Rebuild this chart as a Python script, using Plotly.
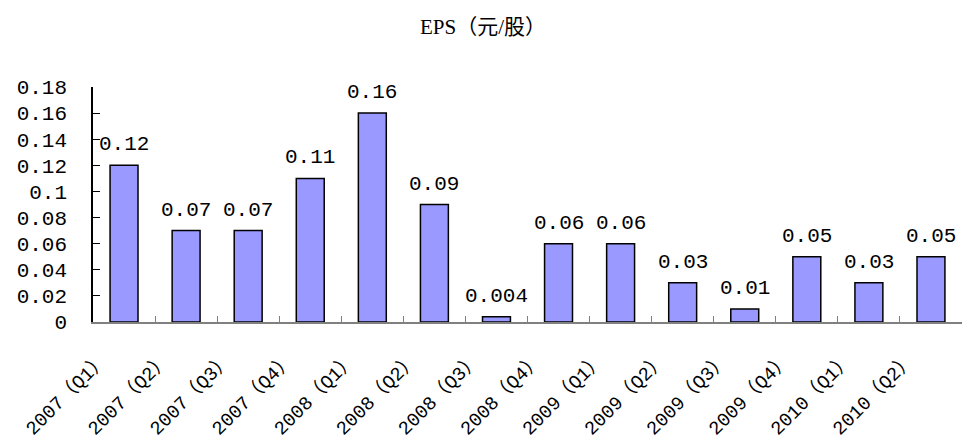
import plotly.graph_objects as go

categories = ["2007（Q1）", "2007（Q2）", "2007（Q3）", "2007（Q4）",
              "2008（Q1）", "2008（Q2）", "2008（Q3）", "2008（Q4）",
              "2009（Q1）", "2009（Q2）", "2009（Q3）", "2009（Q4）",
              "2010（Q1）", "2010（Q2）"]
eps = [0.12, 0.07, 0.07, 0.11, 0.16, 0.09, 0.004, 0.06, 0.06, 0.03, 0.01, 0.05, 0.03, 0.05]
labels = ["0.12", "0.07", "0.07", "0.11", "0.16", "0.09", "0.004", "0.06", "0.06",
          "0.03", "0.01", "0.05", "0.03", "0.05"]
y_ticks = [0, 0.02, 0.04, 0.06, 0.08, 0.1, 0.12, 0.14, 0.16, 0.18]
y_tick_text = ["0", "0.02", "0.04", "0.06", "0.08", "0.1", "0.12", "0.14", "0.16", "0.18"]

FONT = "Liberation Mono, Noto Sans CJK SC, monospace"

n = len(categories)
xpos = list(range(n))
label_pos = [i - 0.36 for i in xpos]      # rotated labels sit left of bar centre
boundaries = [i + 0.5 for i in xpos[:-1]]  # tick marks between categories

fig = go.Figure(go.Bar(
    x=xpos, y=eps, width=0.45,
    marker=dict(color="#9999FF", line=dict(color="black", width=1.5)),
    cliponaxis=False,
))

annotations = []
for x, val, lab in zip(xpos, eps, labels):
    annotations.append(dict(
        x=x, y=val, xref="x", yref="y", text=lab, showarrow=False,
        xanchor="center", yanchor="bottom", yshift=7,
        font=dict(family=FONT, size=21, color="black"),
    ))

fig.update_layout(
    width=966, height=447,
    margin=dict(l=93, r=4, t=87, b=125),
    paper_bgcolor="white", plot_bgcolor="white",
    showlegend=False,
    title=dict(text="EPS（元/股）", x=0.5, xanchor="center", y=0.94, yanchor="middle",
               font=dict(family="Liberation Serif, Noto Sans CJK SC, serif", size=21, color="black")),
    font=dict(family=FONT, size=21, color="black"),
    annotations=annotations,
)
fig.update_xaxes(
    range=[-0.5, n - 0.5],
    tickvals=label_pos, ticktext=categories, tickangle=-45,
    ticks="", ticklabelstandoff=17,
    tickfont=dict(family=FONT, size=19, color="black"),
    minor=dict(tickvals=boundaries, ticks="inside", ticklen=6, tickcolor="#808080", showgrid=False),
    showline=True, linecolor="#808080", linewidth=1.5,
    showgrid=False, zeroline=False, automargin=False,
)
fig.update_yaxes(
    range=[0, 0.18], tickvals=y_ticks, ticktext=y_tick_text,
    ticks="inside", ticklen=7, tickcolor="black",
    showline=True, linecolor="black", linewidth=1.5,
    showgrid=False, zeroline=False, automargin=False,
    tickfont=dict(family=FONT, size=21, color="black"),
    ticklabelstandoff=20,
)

fig.write_html("out.html", config={"displayModeBar": False},
               post_script="document.body.style.margin='0';")
